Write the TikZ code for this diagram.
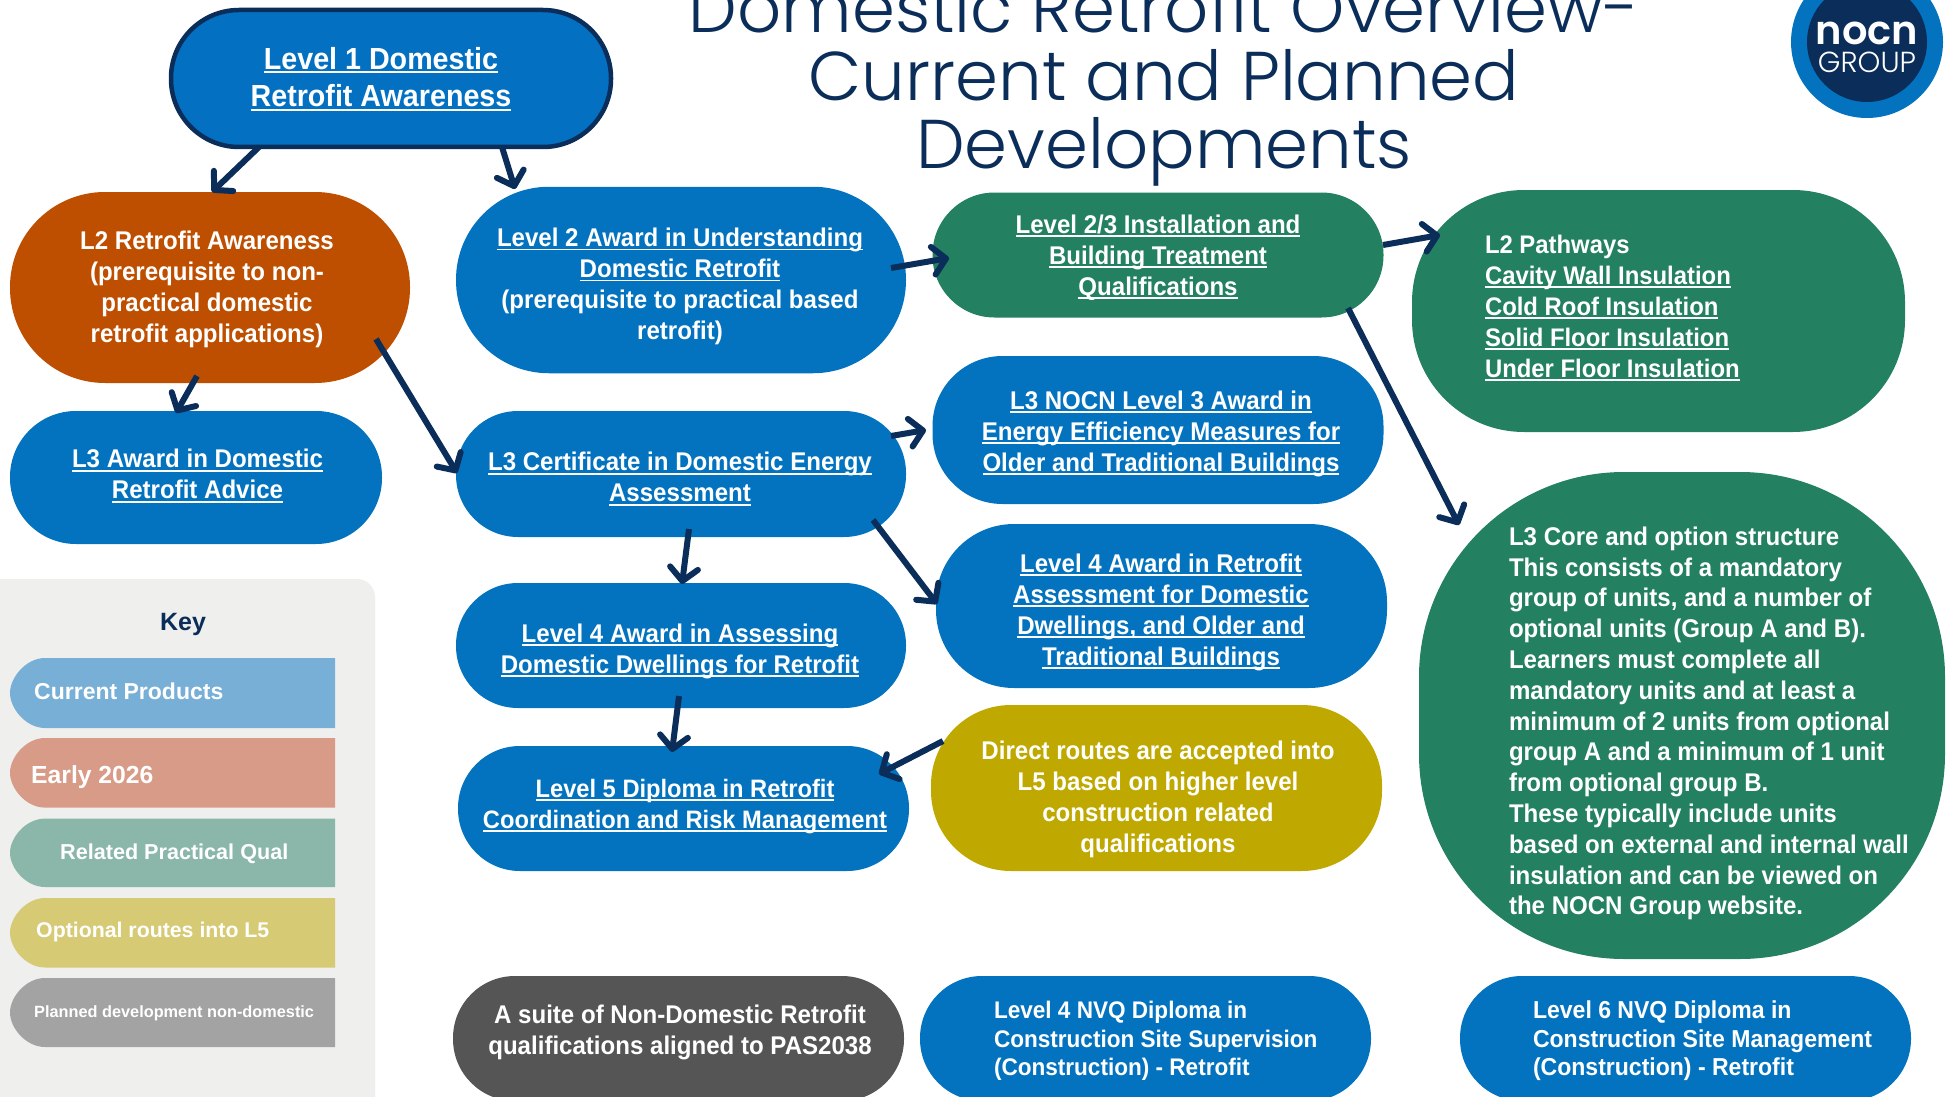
\documentclass[tikz,border=0pt]{standalone}
\usepackage{fontspec}
\setmainfont{Liberation Sans}[BoldFont=* Bold,BoldFeatures={FakeStretch=0.94}]
\newfontfamily\keyfont{Liberation Sans Bold}
\newfontfamily\titlefont{Poppins Light}
\newfontfamily\logobold{Poppins SemiBold}
\usetikzlibrary{arrows.meta}
\definecolor{navy}{HTML}{0A2D59}
\definecolor{blue}{HTML}{0473BF}
\definecolor{topblue}{HTML}{0370C1}
\definecolor{orange}{HTML}{BE4F00}
\definecolor{green}{HTML}{238061}
\definecolor{olive}{HTML}{BFA900}
\definecolor{darkgrey}{HTML}{555555}
\definecolor{panel}{HTML}{EFEFED}
\newcommand\ulx[1]{\leavevmode\setbox0\hbox{#1}\rlap{\raisebox{-3.6pt}{\rule{\wd0}{1.7pt}}}\box0}
\tikzset{
  x=1pt,y=-1pt,
  pill/.style n args={3}{rectangle,minimum width=#1pt,minimum height=#2pt,rounded corners=#3pt,inner sep=0pt,outer sep=0pt},
  label/.style={inner sep=0pt,outer sep=0pt,text=white,font=\fontsize{25.6}{31}\selectfont\bfseries,align=center},
  llabel/.style={label,align=left},
  arr/.style={draw=navy,line width=6pt,-{Straight Barb[round,length=13pt,width=28pt,line width=6pt]}},
  keytext/.style={anchor=west,inner sep=0pt,text=white},
}
\begin{document}
\begin{tikzpicture}
\useasboundingbox (0,0) rectangle (1952,1097);
\clip (0,0) rectangle (1952,1097);
\fill[white] (0,0) rectangle (1952,1097);
% key
\fill[panel, rounded corners=18pt] (-30,579) rectangle (375,1130);
\node[inner sep=0pt,text=navy,font=\fontsize{25}{30}\selectfont\keyfont] (keyt) at (183,624) {Key};
\foreach \ya/\yb/\c in {658/728/78AFD6,738/807.6/D79B87,818.6/887/8AB7AA,898/967.5/D6CA75,978/1047/A3A3A3}{
  \definecolor{kc}{HTML}{\c}
  \pgfmathsetmacro\ym{(\ya+\yb)/2}
  \pgfmathsetmacro\cu{\ym-15.5}
  \pgfmathsetmacro\cd{\ym+15.5}
  \fill[kc] (45,\ya) -- (335,\ya) -- (335,\yb) -- (45,\yb) .. controls (26,\yb) and (10,\cd) .. (10,\ym) .. controls (10,\cu) and (26,\ya) .. (45,\ya) -- cycle;
}
\node[keytext,font=\fontsize{23}{28}\selectfont\keyfont] (k1) at (34,691) {Current Products};
\node[keytext,font=\fontsize{24.7}{28}\selectfont\keyfont] (k2) at (31,777) {Early 2026};
\node[keytext,font=\fontsize{21.6}{26}\selectfont\keyfont] (k3) at (60,854) {Related Practical Qual};
\node[keytext,font=\fontsize{21.3}{26}\selectfont\keyfont] (k4) at (36,932) {Optional routes into L5};
\node[keytext,font=\fontsize{16.3}{20}\selectfont\keyfont] (k5) at (34,1013) {Planned development non-domestic};
% nodes
\node[pill={440}{137}{68},fill=topblue,draw=navy,line width=4.5pt] (l1) at (391,78.5) {};
\node[label,font=\fontsize{30.5}{37.4}\selectfont\bfseries] (l1t) at (381,79) {\ulx{Level 1 Domestic}\\\ulx{Retrofit Awareness}};
\node[pill={400}{191}{95},fill=orange] (l2o) at (210,287.5) {};
\node[label] (l2ot) at (207,289.5) {L2 Retrofit Awareness\\(prerequisite to non-\\practical domestic\\retrofit applications)};
\node[pill={450}{186.5}{93},fill=blue] (aw2) at (681,280) {};
\node[label] (aw2t) at (680,286.5) {\ulx{Level 2 Award in Understanding}\\\ulx{Domestic Retrofit}\\(prerequisite to practical based\\retrofit)};
\node[pill={372}{133}{66},fill=blue] (adv) at (196,477.5) {};
\node[label] (advt) at (197.5,476) {\ulx{L3 Award in Domestic}\\\ulx{Retrofit Advice}};
\node[pill={450}{126}{62},fill=blue] (cert) at (681,474) {};
\node[label] (certt) at (680,479) {\ulx{L3 Certificate in Domestic Energy}\\\ulx{Assessment}};
\node[pill={450}{125}{62},fill=blue] (ass) at (681,645.5) {};
\node[label] (asst) at (680,651.5) {\ulx{Level 4 Award in Assessing}\\\ulx{Domestic Dwellings for Retrofit}};
\node[pill={451}{125}{62},fill=blue] (l5) at (683.5,808.5) {};
\node[label,font=\fontsize{25.2}{31}\selectfont\bfseries] (l5t) at (685,806.5) {\ulx{Level 5 Diploma in Retrofit}\\\ulx{Coordination and Risk Management}};
\node[pill={451}{125}{62},fill=darkgrey] (nd) at (678.5,1038.5) {};
\node[label] (ndt) at (680,1032.5) {A suite of Non-Domestic Retrofit\\qualifications aligned to PAS2038};
\node[pill={451}{125}{62},fill=green] (inst) at (1158,255) {};
\node[label] (instt) at (1158,257.5) {\ulx{Level 2/3 Installation and}\\\ulx{Building Treatment}\\\ulx{Qualifications}};
\node[pill={451}{148}{70},fill=blue] (nocn) at (1158,430) {};
\node[label] (nocnt) at (1161,433.5) {\ulx{L3 NOCN Level 3 Award in}\\\ulx{Energy Efficiency Measures for}\\\ulx{Older and Traditional Buildings}};
\node[pill={451}{164}{78},fill=blue] (l4aw) at (1161.5,606) {};
\node[label] (l4awt) at (1161,612.5) {\ulx{Level 4 Award in Retrofit}\\\ulx{Assessment for Domestic}\\\ulx{Dwellings, and Older and}\\\ulx{Traditional Buildings}};
\node[pill={451}{166}{80},fill=olive] (dir) at (1156.5,788) {};
\node[label] (dirt) at (1158,799) {Direct routes are accepted into\\L5 based on higher level\\construction related\\qualifications};
\node[pill={451}{125}{62},fill=blue] (nvq4) at (1145.5,1038.5) {};
\node[llabel,anchor=west,font=\fontsize{24}{28.6}\selectfont\bfseries] (nvq4t) at (994,1041) {Level 4 NVQ Diploma in\\Construction Site Supervision\\(Construction) - Retrofit};
\node[pill={451}{125}{62},fill=blue] (nvq6) at (1685.5,1038.5) {};
\node[llabel,anchor=west,font=\fontsize{24.5}{28.6}\selectfont\bfseries] (nvq6t) at (1533,1041) {Level 6 NVQ Diploma in\\Construction Site Management\\(Construction) - Retrofit};
\node[pill={493}{242}{112},fill=green] (path) at (1658.5,311) {};
\node[llabel,anchor=west,font=\fontsize{25.4}{31}\selectfont\bfseries] (patht) at (1485,308) {L2 Pathways\\\ulx{Cavity Wall Insulation}\\\ulx{Cold Roof Insulation}\\\ulx{Solid Floor Insulation}\\\ulx{Under Floor Insulation}};
\node[pill={526}{487}{205},fill=green] (core) at (1682,715.5) {};
\node[llabel,anchor=west,font=\fontsize{25.6}{30.8}\selectfont\bfseries] (coret) at (1509,723.5) {L3 Core and option structure\\This consists of a mandatory\\group of units, and a number of\\optional units (Group A and B).\\Learners must complete all\\mandatory units and at least a\\minimum of 2 units from optional\\group A and a minimum of 1 unit\\from optional group B.\\These typically include units\\based on external and internal wall\\insulation and can be viewed on\\the NOCN Group website.};
% title
\node[inner sep=0pt,text=navy,align=center,font=\fontsize{69}{68}\selectfont\titlefont,anchor=base] (title) at (1164,168) {Domestic Retrofit Overview-\\Current and Planned\\Developments};
% logo
\node[circle,fill=blue,minimum size=152pt,inner sep=0pt] (logoa) at (1867,42) {};
\node[circle,fill=navy,minimum size=120pt,inner sep=0pt] (logob) at (1867,42) {};
\node[inner sep=0pt,text=white,font=\fontsize{40}{40}\selectfont\logobold] (logoc) at (1867,33) {nocn};
\node[inner sep=0pt,text=white,font=\fontsize{29}{29}\selectfont\titlefont] (logod) at (1867,62) {GROUP};
% connectors
\draw[arr] ([shift={(-132,68.5)}]l1.center) -- ([shift={(2,-95.5)}]l2o.center);
\draw[arr] ([shift={(111,68.5)}]l1.center) -- ([shift={(-166,-91)}]aw2.center);
\draw[arr] ([shift={(-13,88.5)}]l2o.center) -- ([shift={(-20,-64.5)}]adv.center);
\draw[arr] ([shift={(166,51.5)}]l2o.center) -- ([shift={(-224,-1)}]cert.center);
\draw[arr] ([shift={(210,-12)}]aw2.center) -- ([shift={(-209,3)}]inst.center);
\draw[arr] ([shift={(225,-10)}]inst.center) -- ([shift={(-218.5,-76)}]path.center);
\draw[arr] ([shift={(190,53)}]inst.center) -- ([shift={(-223,-190.5)}]core.center);
\draw[arr] ([shift={(210,-38)}]cert.center) -- ([shift={(-232,0)}]nocn.center);
\draw[arr] ([shift={(8,55)}]cert.center) -- ([shift={(1,-61.5)}]ass.center);
\draw[arr] ([shift={(192,46)}]cert.center) -- ([shift={(-224.5,-2)}]l4aw.center);
\draw[arr] ([shift={(-2,50.5)}]ass.center) -- ([shift={(-11.5,-56.5)}]l5.center);
\draw[arr] ([shift={(-213.5,-47)}]dir.center) -- ([shift={(195.5,-34.5)}]l5.center);
\end{tikzpicture}
\end{document}
